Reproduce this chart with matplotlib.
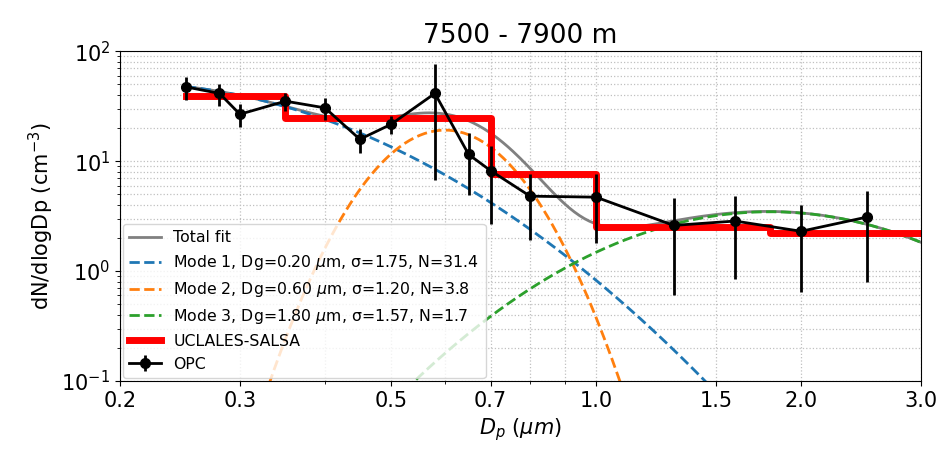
import matplotlib
matplotlib.use("Agg")
import matplotlib.pyplot as plt
import numpy as np

#--------------------------------------------------------------------#
# Data

# OPC measurements
opc_dp = [0.25, 0.28, 0.30, 0.35, 0.40, 0.45, 0.50, 0.58, 0.65, 0.70,
          0.80, 1.0, 1.3, 1.6, 2.0, 2.5]
opc_dn = [47.3, 41.3, 26.7, 35.1, 30.5, 15.8, 21.6, 41.3, 11.5, 8.2,
          4.8, 4.7, 2.6, 2.85, 2.3, 3.1]
opc_err = [11.0, 9.3, 6.3, 6.6, 7.0, 4.0, 4.0, 34.5, 6.6, 5.5,
           2.9, 2.9, 2.0, 2.0, 1.65, 2.3]

# UCLALES-SALSA bins (edges) and levels
salsa_edges = [0.25, 0.35, 0.70, 1.0, 1.8, 3.0]
salsa_dn = [39.0, 24.8, 7.6, 2.5, 2.2]

# Lognormal modes from the legend
mode_dg = [0.20, 0.60, 1.80]
mode_sigma = [1.75, 1.20, 1.57]
mode_n = [31.4, 3.8, 1.7]
mode_colors = ["tab:blue", "tab:orange", "tab:green"]

xticks = [0.2, 0.3, 0.5, 0.7, 1.0, 1.5, 2.0, 3.0]

#--------------------------------------------------------------------#

def lognormal(dp, dg, sigma, n):
    ls = np.log10(sigma)
    return n / (np.sqrt(2 * np.pi) * ls) * np.exp(-np.log10(dp / dg) ** 2 / (2 * ls ** 2))


fig, ax = plt.subplots(figsize=(9.37, 4.53), dpi=100)
fig.subplots_adjust(left=0.128, right=0.983, top=0.887, bottom=0.159)

dp = np.logspace(np.log10(0.25), np.log10(3.0), 300)
modes = [lognormal(dp, g, s, n) for g, s, n in zip(mode_dg, mode_sigma, mode_n)]
total = np.sum(modes, axis=0)

ax.plot(dp, total, color="grey", lw=2, label="Total fit")
for i in range(3):
    ax.plot(dp, modes[i], "--", color=mode_colors[i], lw=2,
            label=f"Mode {i + 1}, Dg={mode_dg[i]:.2f} $\\mu$m, σ={mode_sigma[i]:.2f}, N={mode_n[i]:.1f}")

ax.step(salsa_edges, salsa_dn + [salsa_dn[-1]], where="post", color="red", lw=5,
        label="UCLALES-SALSA")

ax.errorbar(opc_dp, opc_dn, yerr=opc_err, fmt="-o", color="black", lw=2,
            elinewidth=2, markersize=7, label="OPC")

ax.set_xscale("log")
ax.set_yscale("log")
ax.set_xlim(0.2, 3.0)
ax.set_ylim(0.1, 100)
ax.set_xticks(xticks)
ax.set_xticklabels([f"{t:.1f}" for t in xticks])
ax.tick_params(labelsize=15)

ax.grid(True, which="both", ls=":", color="#c0c0c0", lw=0.9)

ax.set_xlabel("$D_p$ ($\\mu m$)", fontsize=15)
ax.set_ylabel("dN/dlogDp (cm$^{-3}$)", fontsize=15)
ax.set_title("7500 - 7900 m", fontsize=19)

ax.legend(loc="lower left", fontsize=11.3, borderaxespad=0.2,
          labelspacing=0.5, handlelength=2.0)

fig.savefig("out.png", dpi=100)
